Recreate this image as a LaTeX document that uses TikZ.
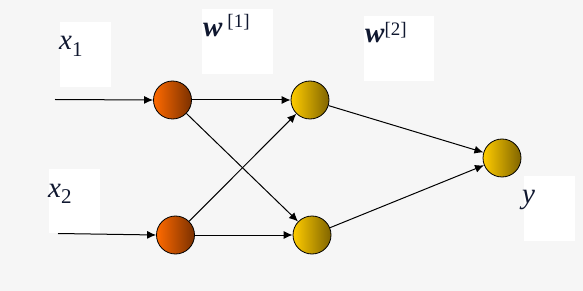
\documentclass[tikz,border=0pt]{standalone}
\usepackage{fontspec}
\setmainfont{Liberation Serif}
\usetikzlibrary{arrows.meta}
\definecolor{bgcol}{HTML}{F2F2F2}
\definecolor{orL}{HTML}{FF6A00}
\definecolor{orR}{HTML}{7A3000}
\definecolor{yeL}{HTML}{FFCC00}
\definecolor{yeR}{HTML}{806400}
\definecolor{txtcol}{HTML}{101830}
\tikzset{
  neuronO/.style={circle, draw=black, line width=0.8pt, minimum size=38pt, inner sep=0pt, left color=orL, right color=orR},
  neuronY/.style={circle, draw=black, line width=0.8pt, minimum size=38pt, inner sep=0pt, left color=yeL, right color=yeR},
  conn/.style={draw=black, line width=1pt, -{Latex[length=9pt,width=8pt]}},
  labbox/.style={fill=white, draw=none, anchor=north west, inner sep=0pt},
  lab/.style={anchor=base west, inner sep=0pt, text=txtcol, font=\fontsize{29}{30}\selectfont}
}
\begin{document}
\begin{tikzpicture}[x=1pt, y=-1pt]
\fill[bgcol!70!white] (0,0) rectangle (583,291);
\useasboundingbox (0,0) rectangle (583,291);
% label boxes
\node[labbox, minimum width=51pt, minimum height=65pt] (bx1) at (60,22) {};
\node[labbox, minimum width=71pt, minimum height=65pt] (bw1) at (202,9) {};
\node[labbox, minimum width=70pt, minimum height=65pt] (bw2) at (364,16) {};
\node[labbox, minimum width=51pt, minimum height=64pt] (bx2) at (49,169) {};
\node[labbox, minimum width=51pt, minimum height=65pt] (by) at (524,176) {};
% labels
\node[lab] (tx1) at (59,50) {\textit{x}\raisebox{-7pt}{\fontsize{21}{21}\selectfont 1}};
\node[lab] (tw1) at (203,37) {\textbf{\textit{w}}\,\raisebox{9pt}{\fontsize{19}{19}\selectfont[1]}};
\node[lab] (tw2) at (365,43) {\textbf{\textit{w}}\raisebox{7pt}{\fontsize{19}{19}\selectfont[2]}};
\node[lab] (tx2) at (48,197) {\textit{x}\raisebox{-6pt}{\fontsize{21}{21}\selectfont 2}};
\node[lab] (ty) at (522,203) {\textit{y}};
% neurons
\node[neuronO] (a1) at (172.5,100) {};
\node[neuronO] (a2) at (175.5,235) {};
\node[neuronY] (b1) at (310,100) {};
\node[neuronY] (b2) at (312,235) {};
\node[neuronY] (c) at (502,158) {};
\coordinate (in1) at (55,99.5);
\coordinate (in2) at (58,233.5);
% connectors
\draw[conn] (in1) -- (a1.west);
\draw[conn] (in2) -- (a2.west);
\draw[conn] (a1) -- (b1);
\draw[conn] (a1) -- (b2);
\draw[conn] (a2) -- (b1);
\draw[conn] (a2) -- (b2);
\draw[conn] (b1) -- (c);
\draw[conn] (b2) -- (c);
\end{tikzpicture}
\end{document}
